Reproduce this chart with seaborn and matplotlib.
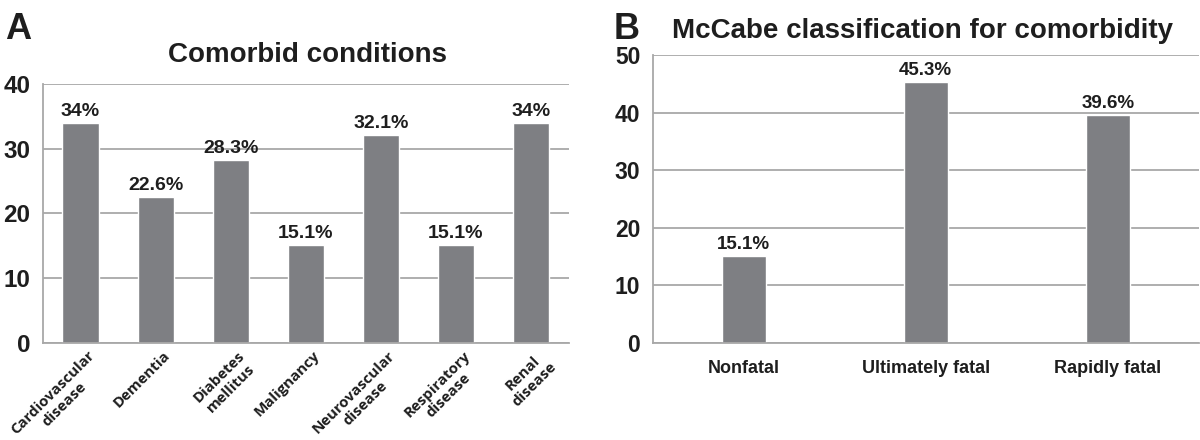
import matplotlib
matplotlib.use("Agg")
import matplotlib.pyplot as plt
import matplotlib.transforms as mtransforms
import seaborn as sns
import numpy as np

# Panel A data
comorbid_labels = ["Cardiovascular\ndisease", "Dementia", "Diabetes\nmellitus", "Malignancy",
                   "Neurovascular\ndisease", "Respiratory\ndisease", "Renal\ndisease"]
comorbid_values = [34, 22.6, 28.3, 15.1, 32.1, 15.1, 34]
comorbid_text = ["34%", "22.6%", "28.3%", "15.1%", "32.1%", "15.1%", "34%"]

# Panel B data
mccabe_labels = ["Nonfatal", "Ultimately fatal", "Rapidly fatal"]
mccabe_values = [15.1, 45.3, 39.6]
mccabe_text = ["15.1%", "45.3%", "39.6%"]

bar_color = "#7e7f83"
grid_color = "#a8a8a8"
text_color = "#1e1e1e"

sns.set_style("white")
plt.rcParams["font.family"] = ["Liberation Sans", "DejaVu Sans"]

fig = plt.figure(figsize=(12, 4.4), dpi=100)
ax_a = fig.add_axes([0.0358, 0.2205, 0.438, 0.5886])
ax_b = fig.add_axes([0.544, 0.2205, 0.455, 0.6545])


def style_axis(ax, ymax, step, ysize):
    ax.set_ylim(0, ymax)
    ax.set_yticks(np.arange(0, ymax + 1, step))
    ax.yaxis.grid(True, color=grid_color, linewidth=1.3)
    ax.set_axisbelow(True)
    for s in ["top", "right"]:
        ax.spines[s].set_visible(False)
    for s in ["left", "bottom"]:
        ax.spines[s].set_color(grid_color)
        ax.spines[s].set_linewidth(1.3)
    ax.tick_params(axis="y", length=6, width=1.3, color=grid_color, pad=3,
                   labelsize=ysize, labelcolor=text_color)
    for t in ax.get_yticklabels():
        t.set_fontweight("bold")
    ax.set_xlabel("")
    ax.set_ylabel("")


# Panel A
sns.barplot(x=comorbid_labels, y=comorbid_values, color=bar_color, saturation=1,
            width=0.48, ax=ax_a)
style_axis(ax_a, 40, 10, 17.5)
ax_a.tick_params(axis="x", length=0, pad=4)
ax_a.set_xticks(range(len(comorbid_labels)))
ax_a.set_xticklabels(comorbid_labels, rotation=45, ha="right", va="top",
                     rotation_mode="anchor", multialignment="center",
                     fontsize=10.8, fontweight="bold", family=["Open Sans", "DejaVu Sans"],
                     color=text_color)
shift = mtransforms.ScaledTranslation(0.07, 0, fig.dpi_scale_trans)
for lbl in ax_a.get_xticklabels():
    lbl.set_transform(lbl.get_transform() + shift)
ax_a.bar_label(ax_a.containers[0], labels=comorbid_text, padding=2, fontsize=14,
               fontweight="bold", color=text_color)

# Panel B
sns.barplot(x=mccabe_labels, y=mccabe_values, color=bar_color, saturation=1,
            width=0.24, ax=ax_b)
style_axis(ax_b, 50, 10, 16.5)
ax_b.set_xlim(-0.5, 2.5)
ax_b.set_xticks([-0.5, 0.5, 1.5, 2.5], minor=True)
ax_b.tick_params(axis="x", which="minor", length=6, width=1.3, color=grid_color)
ax_b.tick_params(axis="x", which="major", length=0, pad=12, labelsize=13,
                 labelcolor=text_color)
for t in ax_b.get_xticklabels():
    t.set_fontweight("bold")
ax_b.bar_label(ax_b.containers[0], labels=mccabe_text, padding=2, fontsize=13.5,
               fontweight="bold", color=text_color)

# Titles and panel letters
fig.text(0.256, 0.875, "Comorbid conditions", ha="center", va="center",
         fontsize=20, fontweight="bold", color=text_color)
fig.text(0.769, 0.93, "McCabe classification for comorbidity", ha="center", va="center",
         fontsize=20, fontweight="bold", color=text_color)
fig.text(0.015, 0.932, "A", ha="center", va="center", fontsize=26, fontweight="bold",
         color=text_color)
fig.text(0.522, 0.934, "B", ha="center", va="center", fontsize=26, fontweight="bold",
         color=text_color)

fig.savefig("out.png", dpi=100, facecolor="white")
